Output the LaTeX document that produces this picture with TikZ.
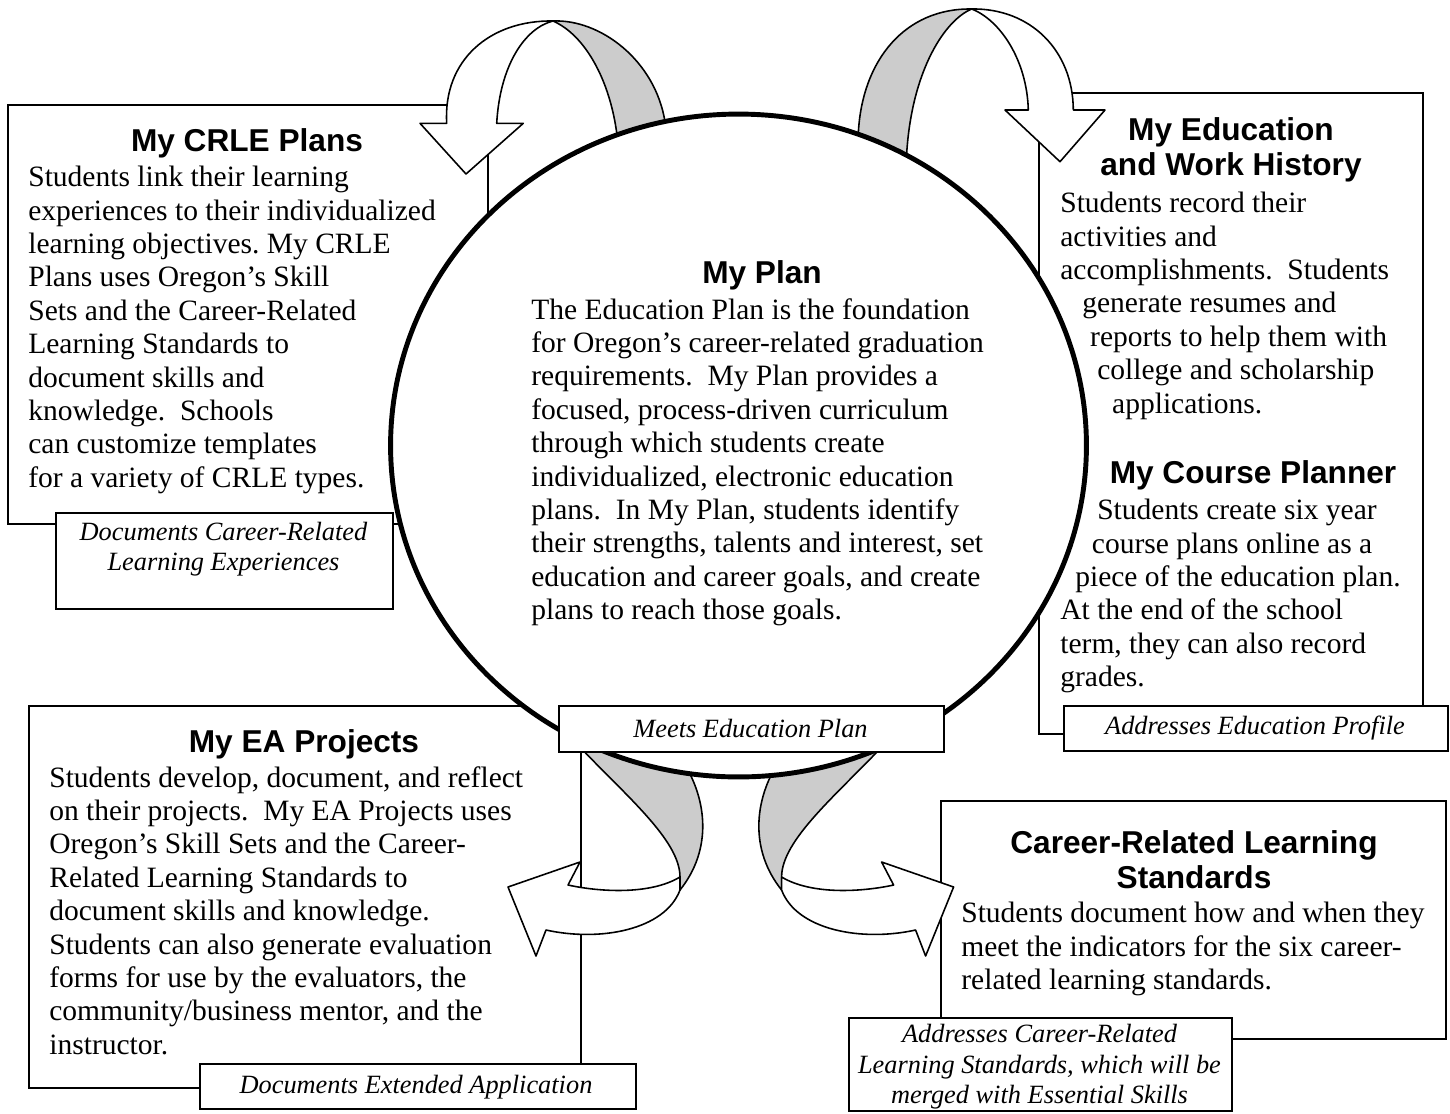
\documentclass[tikz,border=0pt]{standalone}
\usepackage{fontspec}
\setmainfont{Liberation Serif}
\newfontfamily\headfont{Liberation Sans}
\usepackage{tikz}
\usetikzlibrary{shapes.geometric}
\usetikzlibrary{positioning}
\frenchspacing
\tikzset{panel/.style = {draw, fill=white, line width=0.9pt, inner sep=0, anchor=north west}}
\tikzset{boxsize/.style 2 args = {minimum width=#1*0.02cm, minimum height=#2*0.02cm}}
\tikzset{heading/.style = {font=\headfont\bfseries\fontsize{18}{20}\selectfont, align=center, inner sep=0}}
\tikzset{body/.style = {font=\fontsize{16.8}{19}\selectfont, align=left, inner sep=0, anchor=north west}}
\tikzset{tagtext/.style = {font=\itshape\fontsize{15}{17.3}\selectfont, align=center, inner sep=0}}
\tikzset{ribbon/.style = {draw, line width=0.9pt, line join=round}}
\definecolor{mgray}{gray}{0.8}

\begin{document}
\begin{tikzpicture}[x=0.02cm, y=-0.02cm]
      \useasboundingbox (0,0) rectangle (1450,1113);

      \node [panel, boxsize={480}{419}] (crle) at (7,104) {};
      \node [panel, boxsize={384}{641}] (history) at (1038,92) {};
      \node [panel, boxsize={552}{382}] (ea) at (28,705) {};
      \node [panel, boxsize={505}{238}] (standards) at (940,800) {};

      \filldraw [ribbon, fill=mgray] (553,21) .. controls (585,35) and (610,80) .. (617,135) -- (625,170) -- (670,170) -- (665,121.7) .. controls (655,60) and (600,19) .. (553,21) -- cycle;
      \filldraw [ribbon, fill=white] (446.7,123.3) .. controls (443,60) and (490,20) .. (553,21) .. controls (525,28) and (500,65) .. (496.7,123.3) -- (523.3,123.3) -- (466,174) -- (420,123.3) -- cycle;

      \filldraw [ribbon, fill=mgray] (858.3,133.3) .. controls (862,60) and (905,8) .. (971.7,9) .. controls (945,20) and (912,70) .. (906.7,153) -- (910,180) -- (855,170) -- cycle;
      \filldraw [ribbon, fill=white] (1028.3,110) .. controls (1027,60) and (1000,20) .. (971.7,9) .. controls (1030,8) and (1073,50) .. (1073.3,110) -- (1105,110) -- (1060,161.7) -- (1005,110) -- cycle;

      \filldraw [ribbon, fill=mgray] (578,745) .. controls (625,795) and (680,840) .. (680,877) -- (680,890) .. controls (712,850) and (708,800) .. (682,760) -- cycle;
      \filldraw [ribbon, fill=white] (680,877) .. controls (650,895) and (600,892) .. (568,885) -- (580,862) -- (508,887) -- (536,956) -- (546,930) .. controls (600,942) and (665,930) .. (680,890) -- cycle;

      \begin{scope}[shift={(1461.6,0)}, xscale=-1]
        \filldraw [ribbon, fill=mgray] (578,745) .. controls (625,795) and (680,840) .. (680,877) -- (680,890) .. controls (712,850) and (708,800) .. (682,760) -- cycle;
        \filldraw [ribbon, fill=white] (680,877) .. controls (650,895) and (600,892) .. (568,885) -- (580,862) -- (508,887) -- (536,956) -- (546,930) .. controls (600,942) and (665,930) .. (680,890) -- cycle;
      \end{scope}

      \node [draw, ellipse, fill=white, line width=2.8pt, inner sep=0, minimum width=13.92cm, minimum height=13.26cm] (plan) at (738.5,445.5) {};

      \node [panel, boxsize={337}{96}] (crletag) at (55,512) {};
      \node [panel, boxsize={385}{46}] (plantag) at (558,705) {};
      \node [panel, boxsize={384}{45}] (historytag) at (1063,705) {};
      \node [panel, boxsize={436}{45}] (eatag) at (199,1063) {};
      \node [panel, boxsize={383}{93}] (standardstag) at (848,1017) {};

      \node [heading] (crletitle) at (247,143) {My CRLE Plans};
      \node [body] (crlebody) at (28,166) {Students link their learning\\experiences to their individualized\\learning objectives. My CRLE\\Plans uses Oregon's Skill\\Sets and the Career-Related\\Learning Standards to\\document skills and\\knowledge.~ Schools\\can customize templates\\for a variety of CRLE types.};

      \node [heading] (plantitle) at (762,275) {My Plan};
      \node [body] (planbody) at (531,298) {The Education Plan is the foundation\\for Oregon's career-related graduation\\requirements.~ My Plan provides a\\focused, process-driven curriculum\\through which students create\\individualized, electronic education\\plans.~ In My Plan, students identify\\their strengths, talents and interest, set\\education and career goals, and create\\plans to reach those goals.};

      \node [heading] (historytitle) at (1231,150) {My Education\\and Work History};
      \node [body] (historybody) at (1060,192) {Students record their\\activities and\\accomplishments.~ Students\\\hspace*{12.5pt}generate resumes and\\\hspace*{17pt}reports to help them with\\\hspace*{21pt}college and scholarship\\\hspace*{29.5pt}applications.};

      \node [heading] (coursetitle) at (1253,475) {My Course Planner};
      \node [body] (coursebody) at (1060,499) {\hspace*{21pt}Students create six year\\\hspace*{18pt}course plans online as a\\\hspace*{8.5pt}piece of the education plan.\\At the end of the school\\term, they can also record\\grades.};

      \node [heading] (eatitle) at (304,744) {My EA Projects};
      \node [body] (eabody) at (49,766) {Students develop, document, and reflect\\on their projects.~ My EA Projects uses\\Oregon's Skill Sets and the Career-\\Related Learning Standards to\\document skills and knowledge.\\Students can also generate evaluation\\forms for use by the evaluators, the\\community/business mentor, and the\\instructor.};

      \node [heading] (standardstitle) at (1194,860) {Career-Related Learning\\Standards};
      \node [body] (standardsbody) at (961,902) {Students document how and when they\\meet the indicators for the six career-\\related learning standards.};

      \node [tagtext] (crletagtext) at (223.5,549) {Documents Career-Related\\Learning Experiences};
      \node [tagtext] (plantagtext) at (750.5,728) {Meets Education Plan};
      \node [tagtext] (historytagtext) at (1255,728) {Addresses Education Profile};
      \node [tagtext] (eatagtext) at (416,1087) {Documents Extended Application};
      \node [tagtext] (standardstagtext) at (1039.5,1067) {Addresses Career-Related\\Learning Standards, which will be\\merged with Essential Skills};
\end{tikzpicture}
\end{document}
